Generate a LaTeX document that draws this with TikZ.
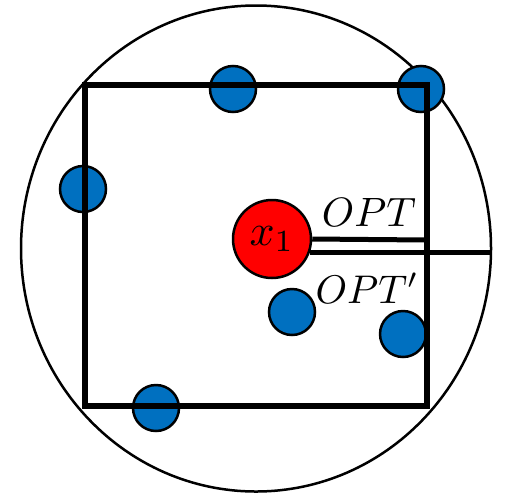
\documentclass[tikz,border=0pt]{standalone}
\usepackage{graphicx}
\usetikzlibrary{positioning}
\definecolor{PtBlue}{RGB}{0, 112, 192}
\definecolor{CtrRed}{RGB}{255, 0, 0}
\newcommand{\biglab}[2]{\scalebox{#1}{$#2$}}

\begin{document}
\begin{tikzpicture}[
  x=1pt, y=-1pt,
  every node/.style={inner sep=0pt},
  pt/.style={circle, draw=black, line width=2.5pt, fill=PtBlue, minimum size=46pt},
  ctr/.style={circle, draw=black, line width=2.5pt, fill=CtrRed, minimum size=78pt},
  frame/.style={draw=black, line width=6pt, line join=miter},
  ball/.style={draw=black, line width=2.5pt},
  rad/.style={draw=black, line width=5pt}
]
  \useasboundingbox (0,0) rectangle (505,493);

  %% Enclosing ball
  \draw[ball] (256,248.5) ellipse [x radius=235pt, y radius=243pt];

  %% Points
  \node[pt] (p1) at (233, 89)  {};
  \node[pt] (p2) at (421, 89)  {};
  \node[pt] (p3) at ( 83,189)  {};
  \node[pt] (p4) at (292,312)  {};
  \node[pt] (p5) at (403,334)  {};
  \node[pt] (p6) at (156,408)  {};

  %% Box
  \draw[frame] (85.3,85.3) rectangle (427.3,406);

  %% Center
  \node[ctr] (x1) at (272,239) {\biglab{4.4}{x_1}};

  %% Radii
  \coordinate (boxedge)  at (426,240);
  \coordinate (balledge) at (491,253.5);
  \draw[rad] (x1.east)  -- (boxedge);
  \draw[rad] (x1.-20) -- (x1.-20 -| balledge);

  %% Labels
  \node (opt)  at (369,212) {\biglab{4.1}{OPT}};
  \node (optp) at (367,288) {\biglab{4.0}{OPT'}};
\end{tikzpicture}
\end{document}
